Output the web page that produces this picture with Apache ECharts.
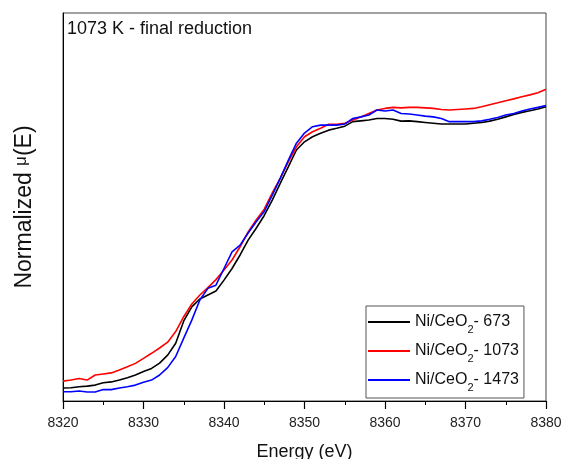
<!DOCTYPE html>
<html>
<head>
<meta charset="utf-8">
<script src="https://cdn.jsdelivr.net/npm/echarts@6/dist/echarts.min.js"></script>
<style>
html,body{margin:0;padding:0;background:#fff;}
#c{width:561px;height:459px;}
</style>
</head>
<body>
<div id="c"></div>
<script>
var energy = [8320,8321,8322,8323,8324,8325,8326,8327,8328,8329,8330,8331,8332,8333,8334,8335,8336,8337,8338,8339,8340,8341,8342,8343,8344,8345,8346,8347,8348,8349,8350,8351,8352,8353,8354,8355,8356,8357,8358,8359,8360,8361,8362,8363,8364,8365,8366,8367,8368,8369,8370,8371,8372,8373,8374,8375,8376,8377,8378,8379,8380];
var ni673 = [-0.011,-0.010,-0.006,-0.004,0.000,0.009,0.012,0.019,0.028,0.038,0.051,0.063,0.083,0.113,0.158,0.242,0.295,0.325,0.340,0.355,0.396,0.440,0.491,0.547,0.592,0.640,0.698,0.762,0.824,0.887,0.918,0.937,0.950,0.962,0.969,0.977,0.994,0.997,1.000,1.006,1.006,1.003,0.996,0.997,0.994,0.991,0.988,0.985,0.985,0.985,0.985,0.988,0.991,0.996,1.003,1.012,1.021,1.029,1.035,1.042,1.050];
var ni1073 = [0.015,0.019,0.025,0.019,0.038,0.042,0.046,0.057,0.069,0.082,0.101,0.120,0.140,0.162,0.202,0.258,0.306,0.340,0.368,0.398,0.434,0.472,0.522,0.578,0.623,0.664,0.725,0.781,0.843,0.899,0.937,0.956,0.969,0.984,0.984,0.988,1.000,1.012,1.025,1.038,1.044,1.048,1.046,1.048,1.048,1.046,1.044,1.040,1.038,1.040,1.042,1.044,1.050,1.058,1.065,1.073,1.080,1.088,1.095,1.103,1.116];
var ni1473 = [-0.025,-0.025,-0.022,-0.026,-0.026,-0.017,-0.017,-0.011,-0.006,0.000,0.011,0.019,0.038,0.066,0.108,0.177,0.245,0.321,0.365,0.377,0.440,0.503,0.528,0.574,0.616,0.655,0.717,0.781,0.849,0.913,0.951,0.975,0.981,0.981,0.981,0.985,1.006,1.012,1.019,1.038,1.034,1.038,1.025,1.023,1.019,1.015,1.012,1.006,0.994,0.994,0.994,0.994,0.997,1.003,1.010,1.019,1.025,1.034,1.042,1.048,1.055];
var seriesNames = ['Ni/CeO2- 673','Ni/CeO2- 1073','Ni/CeO2- 1473'];
var seriesColors = ['#000000','#ff0000','#0000ff'];
var xTicks = [8320,8330,8340,8350,8360,8370,8380];
var titleText = '1073 K - final reduction';
var xName = 'Energy (eV)';

function pairs(ys){ return energy.map(function(x,i){ return [x, ys[i]]; }); }
var allData = [ni673, ni1073, ni1473];
var FONT = 'Liberation Sans, Arial, sans-serif';

var chart = echarts.init(document.getElementById('c'), null, {renderer:'canvas'});
chart.setOption({
  animation:false,
  backgroundColor:'#ffffff',
  grid:{left:63,right:15,top:13,bottom:58,show:true,borderColor:'#444',borderWidth:1,backgroundColor:'transparent',
    outerBoundsMode:'none',containLabel:false},
  graphic:[{type:'text',left:67,top:20,style:{text:titleText,font:'18px '+FONT,fill:'#111'}}],
  xAxis:{
    type:'value',min:xTicks[0],max:xTicks[xTicks.length-1],interval:10,
    name:xName,nameLocation:'middle',nameGap:42,
    nameTextStyle:{fontFamily:FONT,fontSize:18,color:'#111'},
    axisLine:{show:true,onZero:false,lineStyle:{color:'#000',width:1}},
    axisTick:{show:true,interval:0,inside:false,length:8,lineStyle:{color:'#000',width:1.2}},
    minorTick:{show:true,splitNumber:2,length:4,lineStyle:{color:'#000',width:1}},
    axisLabel:{margin:15,fontFamily:FONT,fontSize:14,color:'#222',
      formatter:function(v){ return xTicks.indexOf(v)>=0 ? String(v) : ''; }},
    splitLine:{show:false}
  },
  yAxis:{
    type:'value',min:-0.06,max:1.404,
    name:'{a|Normalized }{m|μ}{a|(E)}',nameLocation:'middle',nameGap:27,
    nameTextStyle:{color:'#111',rich:{
      a:{fontFamily:FONT,fontSize:23,color:'#111'},
      m:{fontFamily:FONT,fontSize:17,color:'#111',padding:[0,0,6,0]}
    }},
    axisLine:{show:true,onZero:false,lineStyle:{color:'#000',width:1}},
    axisTick:{show:false},axisLabel:{show:false},splitLine:{show:false}
  },
  legend:{
    orient:'vertical',left:366,top:306,
    padding:[8,5,5,2],itemGap:8,itemWidth:42,itemHeight:2,icon:'rect',
    borderColor:'#555',borderWidth:1,backgroundColor:'#fff',
    data:seriesNames,
    formatter:function(n){
      var p = n.split('CeO2');
      return '{a|'+p[0]+'CeO}{s|2}{a|'+p[1]+'}';
    },
    textStyle:{rich:{
      a:{fontFamily:FONT,fontSize:16,color:'#111',lineHeight:26},
      s:{fontFamily:FONT,fontSize:11,color:'#111',lineHeight:11,verticalAlign:'bottom'}
    }}
  },
  series:allData.map(function(d,i){
    return {type:'line',name:seriesNames[i],data:pairs(d),symbol:'none',showSymbol:false,
      lineStyle:{color:seriesColors[i],width:1.6},itemStyle:{color:seriesColors[i]},z:2+i};
  })
});
</script>
</body>
</html>
